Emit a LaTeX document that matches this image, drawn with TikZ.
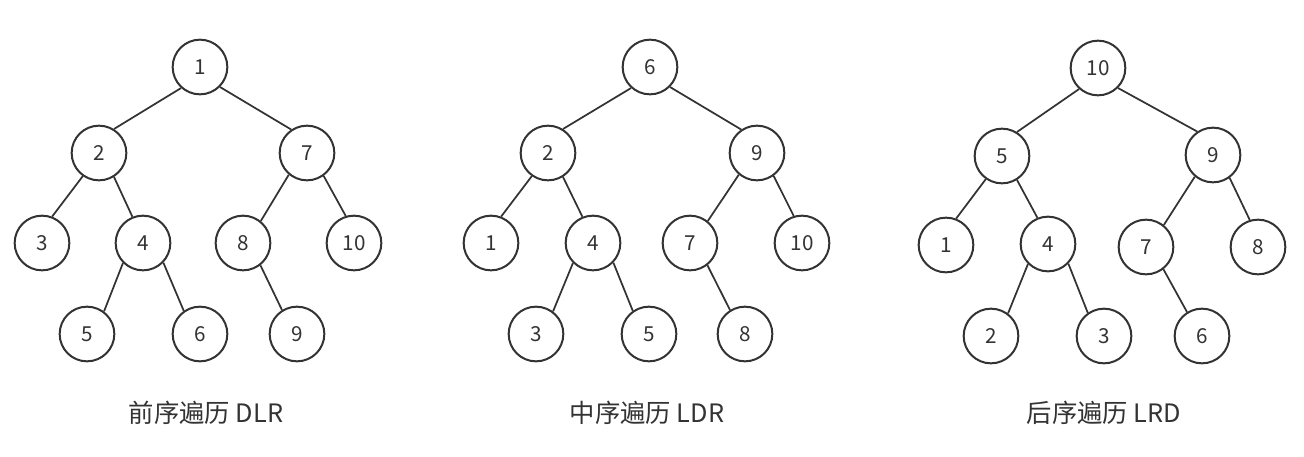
\documentclass[tikz,border=0pt]{standalone}
\usepackage{fontspec}
\setmainfont{Noto Sans CJK SC}
\usetikzlibrary{positioning}
\definecolor{inkGray}{HTML}{333333}
\tikzset{
  vertex/.style = {
    draw=inkGray,
    circle,
    line width=1.5pt,
    minimum size=41pt,
    inner sep=0pt,
    text=inkGray,
    font=\fontsize{15.5}{15.5}\selectfont,
  },
  link/.style = {
    draw=inkGray,
    line width=1.3pt,
  },
  caption/.style = {
    text=inkGray,
    font=\fontsize{19}{19}\selectfont,
  },
}

\begin{document}
\begin{tikzpicture}[x=0.75pt, y=-0.75pt]

\useasboundingbox (0,0) rectangle (1304,457);

% pre-order tree
\node(Pre1)[vertex] at (200,67) {1};
\node(Pre2)[vertex] at (99,153) {2};
\node(Pre7)[vertex] at (307,153) {7};
\node(Pre3)[vertex] at (42,243) {3};
\node(Pre4)[vertex] at (143,243) {4};
\node(Pre8)[vertex] at (243,243) {8};
\node(Pre10)[vertex] at (354,243) {10};
\node(Pre5)[vertex] at (87,334) {5};
\node(Pre6)[vertex] at (200,334) {6};
\node(Pre9)[vertex] at (297,334) {9};
\node(PreText)[caption] at (206,413) {前序遍历 DLR};

% in-order tree
\node(In6)[vertex] at (650,67) {6};
\node(In2)[vertex] at (548,153) {2};
\node(In9)[vertex] at (757,153) {9};
\node(In1)[vertex] at (491,243) {1};
\node(In4)[vertex] at (593,243) {4};
\node(In7)[vertex] at (690,243) {7};
\node(In10)[vertex] at (802,243) {10};
\node(In3)[vertex] at (536,334) {3};
\node(In5)[vertex] at (649,334) {5};
\node(In8)[vertex] at (745,334) {8};
\node(InText)[caption] at (647,413) {中序遍历 LDR};

% post-order tree
\node(Post10)[vertex] at (1098,68) {10};
\node(Post5)[vertex] at (1002,156) {5};
\node(Post9)[vertex] at (1213,155) {9};
\node(Post1)[vertex] at (946,245) {1};
\node(Post4)[vertex] at (1048,244) {4};
\node(Post7)[vertex] at (1146,247) {7};
\node(Post8)[vertex] at (1258,247) {8};
\node(Post2)[vertex] at (991,336) {2};
\node(Post3)[vertex] at (1104,336) {3};
\node(Post6)[vertex] at (1202,336) {6};
\node(PostText)[caption] at (1104,413) {后序遍历 LRD};

% parent/angle/child/angle
\foreach \a/\p/\b/\c in {1/228/2/58, 1/315/7/124, 2/235/3/69, 2/302/4/112,
    4/225/5/53, 4/316/6/125, 7/230/8/51, 7/306/10/107, 8/308/9/122}{
  \draw[link] (Pre\a.\p) -- (Pre\b.\c);
}
\foreach \a/\p/\b/\c in {6/228/2/58, 6/315/9/124, 2/235/1/69, 2/302/4/112,
    4/225/3/53, 4/316/5/125, 9/230/7/51, 9/306/10/107, 7/308/8/122}{
  \draw[link] (In\a.\p) -- (In\b.\c);
}
\foreach \a/\p/\b/\c in {10/228/5/58, 10/315/9/124, 5/235/1/69, 5/302/4/112,
    4/225/2/53, 4/316/3/125, 9/230/7/51, 9/306/8/107, 7/308/6/122}{
  \draw[link] (Post\a.\p) -- (Post\b.\c);
}

\end{tikzpicture}
\end{document}
